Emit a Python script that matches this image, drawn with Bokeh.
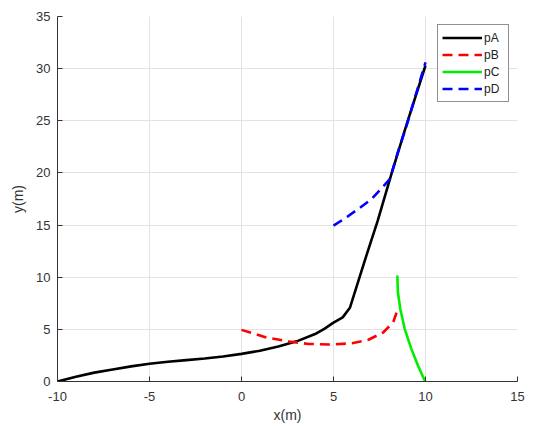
from bokeh.plotting import figure
from bokeh.models import Range1d, FixedTicker, Legend, LegendItem
from bokeh.embed import file_html
from bokeh.resources import INLINE

# ---- data ----
pA_x = [-10, -9, -8, -7, -6, -5, -4, -3, -2, -1, 0, 1, 2, 3, 4, 4.5, 5, 5.5, 5.9, 6.7, 7.4, 8.15, 9.0, 10.0]
pA_y = [0, 0.45, 0.85, 1.15, 1.45, 1.7, 1.9, 2.05, 2.2, 2.4, 2.65, 2.95, 3.35, 3.85, 4.55, 5.05, 5.65, 6.15, 7.1, 11.6, 15.4, 19.9, 24.8, 30.3]

pB_x = [0, 1.3, 2.6, 3.65, 4.9, 6.0, 6.9, 7.7, 8.25, 8.5]
pB_y = [4.95, 4.25, 3.83, 3.6, 3.55, 3.67, 4.0, 4.7, 5.7, 7.0]

pC_x = [8.47, 8.5, 8.63, 8.87, 9.23, 9.59, 9.98]
pC_y = [10.16, 8.56, 6.96, 5.05, 3.13, 1.53, 0.0]

pD_x = [5.0, 5.63, 6.35, 7.07, 7.6, 8.06, 8.5, 9.0, 10.0]
pD_y = [14.95, 15.65, 16.55, 17.5, 18.5, 19.4, 22.0, 24.7, 30.6]

x_ticks = [-10, -5, 0, 5, 10, 15]
y_ticks = [0, 5, 10, 15, 20, 25, 30, 35]

FONT = "Liberation Sans"
AX = "#333333"

p = figure(width=527, height=426, output_backend="svg", toolbar_location=None,
           x_range=Range1d(-10, 15), y_range=Range1d(0, 35),
           min_border_left=57, min_border_right=10, min_border_top=16, min_border_bottom=45)
p.outline_line_color = None
p.background_fill_color = "white"

for ax in (p.xaxis[0], p.yaxis[0]):
    ax.axis_line_color = AX
    ax.major_tick_line_color = AX
    ax.major_tick_in = 5
    ax.major_tick_out = 0
    ax.minor_tick_line_color = None
    ax.major_label_text_font = FONT
    ax.major_label_text_font_size = "13px"
    ax.major_label_text_color = AX
    ax.axis_label_text_font = FONT
    ax.axis_label_text_font_size = "14px"
    ax.axis_label_text_font_style = "normal"
    ax.axis_label_text_color = AX

p.xaxis.ticker = FixedTicker(ticks=x_ticks)
p.yaxis.ticker = FixedTicker(ticks=y_ticks)
p.xaxis.major_label_overrides = {t: str(t) for t in x_ticks}
p.yaxis.major_label_overrides = {t: str(t) for t in y_ticks}
p.xaxis.axis_label = "x(m)"
p.yaxis.axis_label = "y(m)"
p.xaxis.major_label_standoff = 10
p.yaxis.major_label_standoff = 7
p.xaxis.axis_label_standoff = 3
p.yaxis.axis_label_standoff = 7

p.xgrid.ticker = FixedTicker(ticks=x_ticks)
p.ygrid.ticker = FixedTicker(ticks=y_ticks)
p.grid.grid_line_color = "#e3e3e3"
p.grid.grid_line_width = 1

rA = p.line(pA_x, pA_y, line_color="black", line_width=2.6)
rB = p.line(pB_x, pB_y, line_color="#ff0000", line_width=2.6, line_dash="10 6")
rC = p.line(pC_x, pC_y, line_color="#00ee00", line_width=2.6)
rD = p.line(pD_x, pD_y, line_color="#0000ff", line_width=2.6, line_dash="10 6")

legend = Legend(items=[LegendItem(label="pA", renderers=[rA]),
                       LegendItem(label="pB", renderers=[rB]),
                       LegendItem(label="pC", renderers=[rC]),
                       LegendItem(label="pD", renderers=[rD])],
                location="top_right")
legend.border_line_color = "#222222"
legend.border_line_width = 1
legend.background_fill_alpha = 1
legend.label_text_font = FONT
legend.label_text_font_size = "12px"
legend.label_text_color = "#222222"
legend.glyph_width = 40
legend.glyph_height = 17
legend.label_height = 17
legend.label_standoff = 2
legend.padding = 4
legend.spacing = 0
legend.margin = 8
p.add_layout(legend)

open("out.html", "w").write(file_html(p, INLINE))
